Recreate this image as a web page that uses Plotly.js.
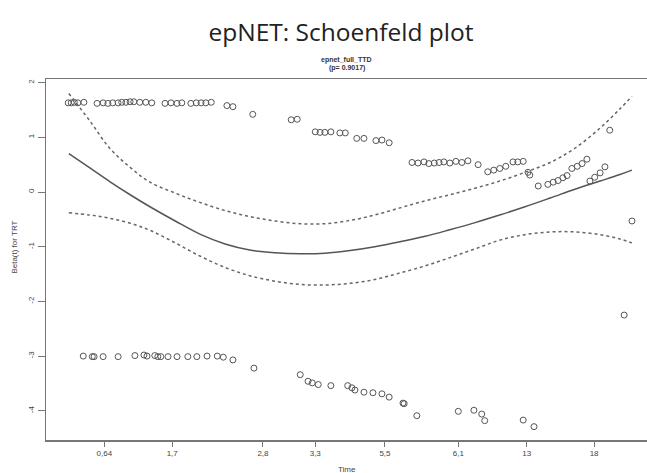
<!DOCTYPE html>
<html>
<head>
<meta charset="utf-8">
<script src="https://cdn.plot.ly/plotly-3.0.1.min.js"></script>
<style>html,body{margin:0;padding:0;background:#fff;}#chart{width:647px;height:473px;}</style>
</head>
<body>
<div id="chart"></div>
<script>
// x values are on the transformed (KM) time scale; tick labels give the times
const tickPos = [0.097, 0.210, 0.361, 0.448, 0.564, 0.686, 0.800, 0.912];
const tickLabels = ["0,64", "1,7", "2,8", "3,3", "5,5", "6,1", "13", "18"];
const yTicks = [-4, -3, -2, -1, 0, 1, 2];

// Schoenfeld residual points (upper cluster)
const upperX = [0.037,0.042,0.047,0.053,0.063,0.085,0.095,0.103,0.111,0.120,0.126,0.133,0.140,0.146,0.156,0.166,0.176,
  0.198,0.208,0.218,0.226,0.241,0.250,0.258,0.266,0.275,0.301,0.311,0.344,0.408,0.418,0.448,0.456,0.464,0.474,0.489,0.498,
  0.517,0.529,0.549,0.559,0.571,0.609,0.619,0.629,0.637,0.646,0.654,0.662,0.672,0.682,0.692,0.702,0.719,0.735,0.745,0.755,
  0.765,0.777,0.785,0.794,0.802,0.805,0.819,0.835,0.844,0.852,0.860,0.867,0.875,0.884,0.892,0.900,0.905,0.913,0.922,0.930,
  0.938,0.962,0.975];
const upperY = [1.63,1.63,1.64,1.63,1.64,1.62,1.63,1.62,1.63,1.63,1.64,1.64,1.65,1.65,1.64,1.64,1.63,
  1.62,1.63,1.62,1.63,1.62,1.63,1.63,1.63,1.64,1.58,1.56,1.42,1.32,1.33,1.10,1.09,1.09,1.10,1.08,1.08,
  0.98,0.98,0.94,0.95,0.90,0.54,0.53,0.55,0.52,0.53,0.54,0.55,0.53,0.56,0.54,0.57,0.50,0.37,0.40,0.43,
  0.47,0.55,0.55,0.56,0.36,0.31,0.11,0.14,0.18,0.21,0.26,0.30,0.43,0.47,0.52,0.60,0.20,0.27,0.35,0.46,
  1.13,-2.25,-0.53];

// Schoenfeld residual points (lower cluster)
const lowerX = [0.062,0.077,0.080,0.095,0.120,0.148,0.163,0.168,0.181,0.186,0.191,0.203,0.218,0.236,0.251,0.268,0.285,
  0.295,0.311,0.346,0.423,0.436,0.443,0.453,0.474,0.502,0.509,0.514,0.529,0.544,0.559,0.571,0.594,0.596,0.617,0.686,
  0.712,0.725,0.730,0.794,0.812];
const lowerY = [-3.00,-3.01,-3.01,-3.01,-3.01,-2.99,-2.98,-3.00,-2.99,-3.01,-3.01,-3.01,-3.01,-3.01,-3.01,-3.00,-3.00,
  -3.02,-3.07,-3.22,-3.34,-3.46,-3.49,-3.52,-3.54,-3.54,-3.58,-3.62,-3.66,-3.67,-3.69,-3.75,-3.86,-3.87,-4.09,-4.01,
  -3.99,-4.06,-4.18,-4.17,-4.29];

// smoothed beta(t) with confidence band
const curveX = [0.038,0.073,0.106,0.140,0.173,0.215,0.256,0.298,0.339,0.381,0.423,0.464,0.506,0.547,0.589,0.631,0.672,
  0.714,0.755,0.797,0.839,0.880,0.922,0.955,0.975];
const fitY = [0.70,0.44,0.19,-0.05,-0.27,-0.53,-0.77,-0.95,-1.06,-1.11,-1.13,-1.12,-1.07,-1.00,-0.91,-0.81,-0.69,
  -0.56,-0.42,-0.27,-0.11,0.05,0.20,0.32,0.40];
const upperCI = [1.80,1.30,0.80,0.45,0.18,-0.02,-0.19,-0.34,-0.45,-0.53,-0.58,-0.58,-0.52,-0.42,-0.29,-0.16,-0.05,
  0.07,0.20,0.36,0.54,0.80,1.17,1.52,1.75];
const lowerCI = [-0.38,-0.42,-0.48,-0.57,-0.70,-0.93,-1.17,-1.38,-1.53,-1.63,-1.69,-1.70,-1.67,-1.60,-1.48,-1.35,-1.20,
  -1.04,-0.88,-0.78,-0.73,-0.73,-0.78,-0.86,-0.93];

const ptStyle = {symbol: 'circle-open', size: 6, color: '#555', line: {width: 1, color: '#555'}};
const traces = [
  {x: upperX, y: upperY, mode: 'markers', marker: ptStyle, hoverinfo: 'skip'},
  {x: lowerX, y: lowerY, mode: 'markers', marker: ptStyle, hoverinfo: 'skip'},
  {x: curveX, y: fitY, mode: 'lines', line: {color: '#555', width: 1.5, shape: 'spline'}, hoverinfo: 'skip'},
  {x: curveX, y: upperCI, mode: 'lines', line: {color: '#666', width: 1.5, dash: '3px,3px', shape: 'spline'}, hoverinfo: 'skip'},
  {x: curveX, y: lowerCI, mode: 'lines', line: {color: '#666', width: 1.5, dash: '3px,3px', shape: 'spline'}, hoverinfo: 'skip'}
];

const small = {family: 'Liberation Sans, Arial, sans-serif', size: 8, color: '#444'};
const layout = {
  width: 647, height: 473,
  margin: {l: 46, r: 0, t: 79, b: 33},
  paper_bgcolor: '#fff', plot_bgcolor: '#fff',
  showlegend: false,
  title: {text: 'epNET: Schoenfeld plot', x: 0.527, xanchor: 'center', y: 0.932, yanchor: 'middle', yref: 'container',
          font: {family: 'Open Sans, Noto Sans, sans-serif', size: 24.5, color: '#222'}},
  xaxis: {range: [0, 1], tickvals: tickPos, ticktext: tickLabels, showgrid: false, zeroline: false,
          showline: true, mirror: true, linecolor: '#777', linewidth: 1.5,
          ticks: 'outside', ticklen: 5, tickcolor: '#777', tickfont: small},
  yaxis: {range: [-4.534, 2.066], tickvals: yTicks, ticktext: yTicks.map(String), showgrid: false, zeroline: false,
          showline: true, linecolor: '#777', linewidth: 1.5, tickangle: -90,
          ticks: 'outside', ticklen: 7, tickcolor: '#777', tickfont: small},
  annotations: [
    {text: '<b>epnet_full_TTD</b>', xref: 'paper', yref: 'paper', x: 0.5, y: 1.053, showarrow: false,
     font: {family: 'Liberation Sans, Arial, sans-serif', size: 7, color: '#333'}, xanchor: 'center', yanchor: 'middle'},
    {text: '<b>(p= 0.9017)</b>', xref: 'paper', yref: 'paper', x: 0.5, y: 1.031, showarrow: false,
     font: {family: 'Liberation Sans, Arial, sans-serif', size: 7, color: '#333'}, xanchor: 'center', yanchor: 'middle'},
    {text: 'Beta(t) for TRT', xref: 'paper', yref: 'paper', x: -0.052, y: 0.535, showarrow: false, textangle: -90,
     font: small, xanchor: 'center', yanchor: 'middle'},
    {text: 'Time', xref: 'paper', yref: 'paper', x: 0.5, y: -0.083, showarrow: false,
     font: small, xanchor: 'center', yanchor: 'middle'}
  ]
};
Plotly.newPlot('chart', traces, layout, {displayModeBar: false, staticPlot: true});
</script>
</body>
</html>
